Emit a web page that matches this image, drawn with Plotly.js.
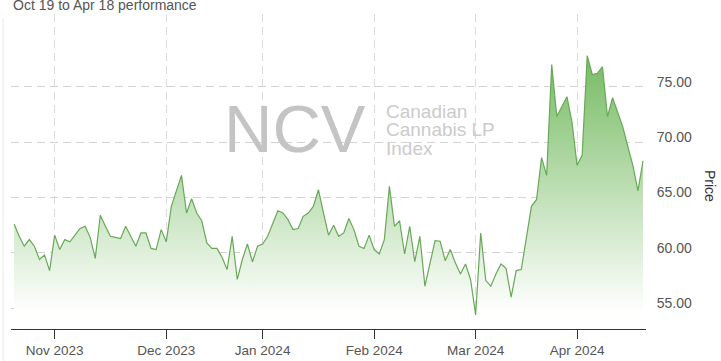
<!DOCTYPE html>
<html>
<head>
<meta charset="utf-8">
<script src="https://cdn.plot.ly/plotly-3.0.1.min.js"></script>
<style>
html,body{margin:0;padding:0;background:#fff;}
#chart{width:721px;height:361px;}
</style>
</head>
<body>
<div id="chart"></div>
<script>
// Trading days (Canadian market calendar), Oct 20 2023 - Apr 18 2024
const octDays = ["2023-10-20","2023-10-23","2023-10-24","2023-10-25","2023-10-26","2023-10-27","2023-10-30","2023-10-31"];
const novDays = ["2023-11-01","2023-11-02","2023-11-03","2023-11-06","2023-11-07","2023-11-08","2023-11-09","2023-11-10","2023-11-13","2023-11-14","2023-11-15","2023-11-16","2023-11-17","2023-11-20","2023-11-21","2023-11-22","2023-11-23","2023-11-24","2023-11-27","2023-11-28","2023-11-29","2023-11-30"];
const decDays = ["2023-12-01","2023-12-04","2023-12-05","2023-12-06","2023-12-07","2023-12-08","2023-12-11","2023-12-12","2023-12-13","2023-12-14","2023-12-15","2023-12-18","2023-12-19","2023-12-20","2023-12-21","2023-12-22","2023-12-27","2023-12-28","2023-12-29"];
const janDays = ["2024-01-02","2024-01-03","2024-01-04","2024-01-05","2024-01-08","2024-01-09","2024-01-10","2024-01-11","2024-01-12","2024-01-15","2024-01-16","2024-01-17","2024-01-18","2024-01-19","2024-01-22","2024-01-23","2024-01-24","2024-01-25","2024-01-26","2024-01-29","2024-01-30","2024-01-31"];
const febDays = ["2024-02-01","2024-02-02","2024-02-05","2024-02-06","2024-02-07","2024-02-08","2024-02-09","2024-02-12","2024-02-13","2024-02-14","2024-02-15","2024-02-16","2024-02-20","2024-02-21","2024-02-22","2024-02-23","2024-02-26","2024-02-27","2024-02-28","2024-02-29"];
const marDays = ["2024-03-01","2024-03-04","2024-03-05","2024-03-06","2024-03-07","2024-03-08","2024-03-11","2024-03-12","2024-03-13","2024-03-14","2024-03-15","2024-03-18","2024-03-19","2024-03-20","2024-03-21","2024-03-22","2024-03-25","2024-03-26","2024-03-27","2024-03-28"];
const aprDays = ["2024-04-01","2024-04-02","2024-04-03","2024-04-04","2024-04-05","2024-04-08","2024-04-09","2024-04-10","2024-04-11","2024-04-12","2024-04-15","2024-04-16","2024-04-17","2024-04-18"];

// Index price per month
const octPrice = [62.6,61.5,60.6,61.2,60.6,59.4,59.8,58.4];
const novPrice = [61.6,60.3,61.2,61.0,61.6,62.2,62.4,61.4,59.5,63.4,62.4,61.5,61.4,61.3,62.4,61.5,60.6,61.8,61.8,60.4,60.3,62.1];
const decPrice = [61.0,64.2,65.6,67.0,63.6,64.9,63.6,62.9,60.9,60.4,60.4,59.6,58.5,61.5,57.6,59.4,60.8,59.2,60.6];
const janPrice = [60.8,61.5,62.6,63.8,63.6,63.0,62.1,62.2,63.3,63.6,64.2,65.7,63.6,61.6,62.5,61.5,61.8,63.1,62.1,60.6,60.4,61.6];
const febPrice = [60.3,59.9,61.2,66.0,62.4,62.9,59.9,62.4,59.2,61.5,57.0,59.1,61.1,61.05,59.3,60.3,59.1,58.1,59.0,57.6];
const marPrice = [54.4,61.8,57.5,57.0,58.1,59.0,58.6,56.0,58.4,58.5,61.3,64.2,64.8,68.6,67.0,77.0,72.3,73.2,74.1,71.8];
const aprPrice = [67.9,68.8,77.8,76.1,76.2,76.8,72.3,74.0,72.6,71.4,69.6,67.9,65.6,68.3];

const tickDates = ["2023-11-01","2023-12-01","2024-01-02","2024-02-01","2024-03-01","2024-04-01"];
const tickLabels = ["Nov 2023","Dec 2023","Jan 2024","Feb 2024","Mar 2024","Apr 2024"];
const yTicks = [55,60,65,70,75];

const dates = [].concat(octDays, novDays, decDays, janDays, febDays, marDays, aprDays);
const price = [].concat(octPrice, novPrice, decPrice, janPrice, febPrice, marPrice, aprPrice);

const L = 11, R = 75, T = 14, B = 32, W = 721, H = 361;
const pw = W - L - R, ph = H - T - B;
const px = v => (v - L) / pw;          // pixel -> paper x
const py = v => (H - B - v) / ph;      // pixel -> paper y

const trace = {
  x: dates,
  y: price,
  type: 'scatter',
  mode: 'lines',
  line: {color: 'rgb(104,168,88)', width: 1.2},
  fill: 'tozeroy',
  fillgradient: {
    type: 'vertical',
    start: 54.6,
    stop: 77.8,
    colorscale: [[0, 'rgba(255,255,255,1)'], [1, 'rgb(118,187,98)']]
  },
  hoverinfo: 'x+y'
};

const layout = {
  width: W, height: H,
  margin: {l: L, r: R, t: T, b: B, pad: 0},
  paper_bgcolor: '#ffffff',
  plot_bgcolor: '#ffffff',
  showlegend: false,
  font: {family: '"Liberation Sans", Arial, sans-serif', color: '#555'},
  xaxis: {
    type: 'category',
    range: [-0.61, dates.length - 1 + 0.59],
    tickvals: tickDates,
    ticktext: tickLabels,
    showgrid: true,
    gridcolor: '#dcdcdc',
    griddash: '8px,5px',
    gridwidth: 1,
    showline: true,
    linecolor: '#333333',
    linewidth: 1,
    ticks: 'outside',
    ticklen: 9,
    tickcolor: '#333333',
    tickfont: {size: 13.5, color: '#555555'},
    zeroline: false,
    automargin: false,
    fixedrange: true
  },
  yaxis: {
    side: 'right',
    range: [53.13, 81.56],
    tickvals: yTicks,
    tickformat: '.2f',
    showgrid: true,
    gridcolor: '#d2d2d2',
    griddash: '8px,5px',
    gridwidth: 1,
    zeroline: false,
    showline: false,
    ticks: 'outside',
    ticklen: 7,
    tickcolor: 'rgba(0,0,0,0)',
    ticklabelshift: -5,
    tickfont: {size: 14, color: '#555555'},
    automargin: false,
    fixedrange: true
  },
  shapes: [{
    type: 'line', xref: 'paper', yref: 'paper',
    x0: px(3), x1: px(3), y0: py(361), y1: py(18),
    line: {color: '#e8e8e8', width: 1}
  }],
  annotations: [
    {text: 'Oct 19 to Apr 18 performance', xref: 'paper', yref: 'paper',
     x: px(11), y: py(5), xanchor: 'left', yanchor: 'middle', showarrow: false,
     font: {size: 14, color: '#555555'}},
    {text: 'Price', xref: 'paper', yref: 'paper', x: px(710), y: py(186),
     xanchor: 'center', yanchor: 'middle', textangle: 90, showarrow: false,
     font: {size: 14, color: '#333333'}},
    {text: 'NCV', xref: 'paper', yref: 'paper', x: px(295), y: py(128),
     xanchor: 'center', yanchor: 'middle', showarrow: false,
     font: {size: 67, color: '#c4c4c4'}},
    {text: 'Canadian', xref: 'paper', yref: 'paper', x: px(384), y: py(111),
     xanchor: 'left', yanchor: 'middle', showarrow: false,
     font: {size: 19, color: '#cbcbcb'}},
    {text: 'Cannabis LP', xref: 'paper', yref: 'paper', x: px(384), y: py(129.5),
     xanchor: 'left', yanchor: 'middle', showarrow: false,
     font: {size: 19, color: '#cbcbcb'}},
    {text: 'Index', xref: 'paper', yref: 'paper', x: px(384), y: py(148),
     xanchor: 'left', yanchor: 'middle', showarrow: false,
     font: {size: 19, color: '#cbcbcb'}}
  ]
};

Plotly.newPlot('chart', [trace], layout, {displayModeBar: false, staticPlot: true});
</script>
</body>
</html>
